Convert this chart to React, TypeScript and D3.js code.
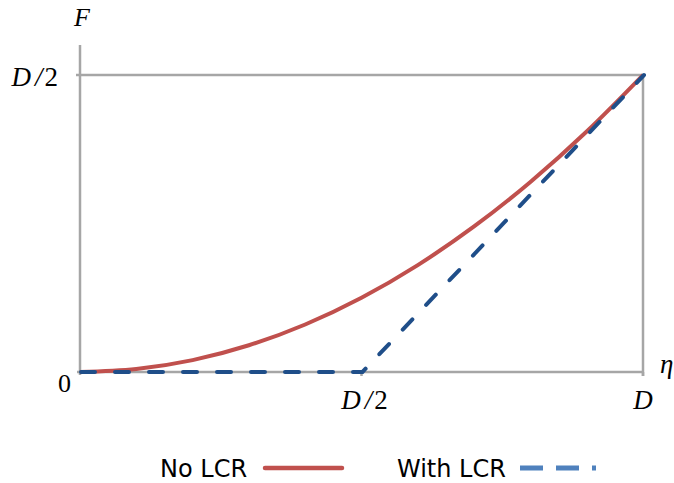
import React from "react";
import * as d3 from "d3";

// eta values as fractions of D, F as fractions of D
const eta = [0, 0.1, 0.2, 0.3, 0.4, 0.5, 0.6, 0.7, 0.8, 0.9, 1.0];
const noLcr = [0, 0.005, 0.02, 0.045, 0.08, 0.125, 0.18, 0.245, 0.32, 0.405, 0.5];
const withLcrEta = [0, 0.5, 1.0];
const withLcr = [0, 0, 0.5];
const xTicks = [0.5, 1];
const xTickLabels = ["D/2", "D"];

const W = 674, H = 483;
const x = d3.scaleLinear().domain([0, 1]).range([80, 643]);
const y = d3.scaleLinear().domain([0, 0.5]).range([372, 75]);

const line = d3.line<[number, number]>()
  .x((d) => x(d[0]))
  .y((d) => y(d[1]));

const GRAY = "#a6a6a6";
const RED = "#c0504d";
const BLUE = "#1f4e89";
const BLUE_LEG = "#4f81bd";
const serif = "'Liberation Serif', 'DejaVu Serif', serif";
const sans = "'DejaVu Sans', 'Liberation Sans', sans-serif";

function Math2({ letter, slash }: { letter: string; slash?: boolean }) {
  return (
    <>
      <tspan fontStyle="italic">{letter}</tspan>
      {slash ? <tspan fontStyle="italic" dx="4">/</tspan> : null}
      {slash ? <tspan dx="2">2</tspan> : null}
    </>
  );
}

export default function App() {
  const redPts = eta.map((e, i) => [e, noLcr[i]] as [number, number]);
  const bluePts = withLcrEta.map((e, i) => [e, withLcr[i]] as [number, number]);
  const redPath = d3.line<[number, number]>()
    .x((d) => x(d[0]))
    .y((d) => y(d[1]))
    .curve(d3.curveMonotoneX)(redPts) || "";

  return (
    <svg width={W} height={H} style={{ position: "absolute", left: 0, top: 0 }}>
      <rect width={W} height={H} fill="#fff" />
      {/* frame */}
      <line x1={x(0)} x2={x(0)} y1={45} y2={y(0) + 3} stroke={GRAY} strokeWidth={2.5} />
      <line x1={x(0) - 3} x2={x(1)} y1={y(0)} y2={y(0)} stroke={GRAY} strokeWidth={2.5} />
      <line x1={x(0) - 4} x2={x(1)} y1={y(0.5)} y2={y(0.5)} stroke={GRAY} strokeWidth={2.5} />
      <line x1={x(1)} x2={x(1)} y1={y(0.5)} y2={y(0) + 4} stroke={GRAY} strokeWidth={2.5} />
      {xTicks.map((t) => (
        <line key={t} x1={x(t)} x2={x(t)} y1={y(0)} y2={y(0) + 4} stroke={GRAY} strokeWidth={2.5} />
      ))}

      <path d={redPath} fill="none" stroke={RED} strokeWidth={4} />
      <path d={line(bluePts) || ""} fill="none" stroke={BLUE} strokeWidth={4}
        strokeDasharray="14 20" strokeLinecap="round" transform="translate(1,0)" />

      {/* axis labels */}
      <text x={82} y={26} fontFamily={serif} fontSize={26} textAnchor="middle" fontStyle="italic">F</text>
      <text x={58} y={86} fontFamily={serif} fontSize={27} textAnchor="end"><Math2 letter="D" slash /></text>
      <text x={71} y={392} fontFamily={serif} fontSize={26} textAnchor="end">0</text>
      {xTicks.map((t, i) => (
        <text key={t} x={x(t) + (i === 0 ? 3 : 0)} y={409} fontFamily={serif} fontSize={27} textAnchor="middle">
          <Math2 letter={xTickLabels[i].slice(0, 1)} slash={xTickLabels[i].length > 1} />
        </text>
      ))}
      <text x={660} y={373} fontFamily={serif} fontSize={27} fontStyle="italic">η</text>

      {/* legend */}
      <text x={160} y={477} fontFamily={sans} fontSize={24}>No LCR</text>
      <line x1={265} x2={342} y1={468} y2={468} stroke={RED} strokeWidth={4.5} strokeLinecap="round" />
      <text x={397} y={477} fontFamily={sans} fontSize={24}>With LCR</text>
      <line x1={520} x2={596} y1={468} y2={468} stroke={BLUE_LEG} strokeWidth={5}
        strokeDasharray="23 13" />
    </svg>
  );
}
